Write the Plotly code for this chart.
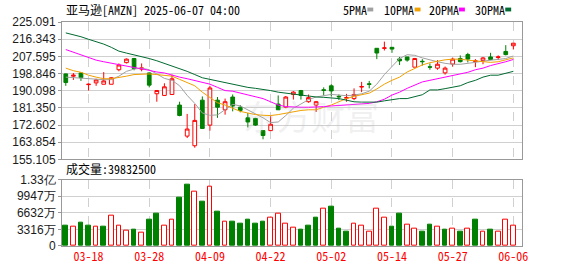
import plotly.graph_objects as go

# ---------------- data ----------------
dates = ["03-13","03-14","03-17","03-18","03-19","03-20","03-21","03-24","03-25","03-26",
         "03-27","03-28","03-31","04-01","04-02","04-03","04-04","04-07","04-08","04-09",
         "04-10","04-11","04-14","04-15","04-16","04-17","04-21","04-22","04-23","04-24",
         "04-25","04-28","04-29","04-30","05-01","05-02","05-05","05-06","05-07","05-08",
         "05-09","05-12","05-13","05-14","05-15","05-16","05-19","05-20","05-21","05-22",
         "05-23","05-27","05-28","05-29","05-30","06-02","06-03","06-04","06-05","06-06"]

opens = [198.66,197.5,199.15,193.2,194.1,193.4,193.4,200.8,204.4,206.5,
         201.1,199.15,188.55,187.7,188.2,182.8,167.0,162.1,185.3,172.6,
         185.3,180.4,186.9,181.7,176.3,176.0,169.8,169.8,183.3,181.7,
         188.2,190.2,184.5,182.8,190.6,192.6,187.3,186.3,186.1,192.0,
         193.6,211.7,211.7,212.2,206.3,207.3,202.1,205.1,202.3,201.6,
         199.2,203.7,206.5,208.5,205.0,205.5,207.3,207.0,210.1,213.0]
highs = [198.9,199.1,199.4,193.8,196.2,199.6,197.0,204.0,206.5,206.8,
         204.0,199.4,190.5,193.9,198.3,184.5,178.3,183.3,187.2,192.6,
         186.9,186.1,188.2,182.8,178.8,176.3,169.8,177.1,187.7,187.4,
         189.9,190.5,188.2,184.9,191.8,193.4,188.2,188.5,191.3,194.6,
         195.1,211.7,215.1,212.2,207.3,207.3,206.8,206.2,204.0,205.7,
         202.4,207.0,208.1,209.4,206.2,207.3,209.4,208.1,213.3,214.3]
lows = [192.6,195.6,195.1,190.2,192.6,193.4,193.4,200.0,204.0,200.5,
        200.0,191.8,184.5,187.4,188.0,177.1,166.0,161.1,170.6,169.8,
        176.3,177.9,179.6,179.1,171.4,172.2,165.4,169.8,180.4,181.2,
        185.6,185.6,184.0,179.3,187.7,187.2,185.3,184.5,185.3,189.4,
        191.3,206.2,210.6,209.4,203.2,204.9,202.1,202.9,200.8,200.8,
        198.3,202.4,204.5,204.5,202.1,203.6,205.7,205.7,208.1,211.1]
closes = [194.26,198.0,196.7,193.4,195.6,195.1,196.7,203.2,206.2,201.4,
          201.7,192.95,190.2,192.1,196.2,177.5,170.6,175.0,170.9,191.5,
          181.7,184.5,182.3,180.1,174.2,172.6,167.3,173.0,180.4,186.9,
          189.4,187.7,186.6,184.5,190.3,190.0,187.0,186.6,188.2,192.2,
          193.4,209.3,211.9,211.3,205.3,205.7,206.5,204.9,202.1,203.6,
          201.6,206.2,204.9,206.2,205.3,206.8,206.0,207.3,208.5,214.3]
prev_close = 198.9

ma5 = [197.03,196.71,196.38,196.22,195.89,195.73,195.73,197.52,199.97,201.11,
       201.60,200.79,198.66,196.38,195.40,192.63,187.74,183.66,178.76,177.62,
       177.78,180.40,183.17,182.35,180.40,178.27,176.32,173.87,174.20,177.46,
       181.21,183.33,185.61,186.92,187.74,188.22,187.90,187.57,187.90,188.55,
       189.86,193.44,198.34,202.42,206.49,208.45,208.12,206.82,205.68,204.86,
       204.05,203.56,203.56,203.88,204.54,205.19,205.68,206.17,206.49,207.80]
ma10 = [201.60,200.30,199.48,198.01,197.03,196.22,196.22,196.71,197.52,198.34,
        198.66,198.66,198.34,198.01,197.52,195.89,194.26,192.63,189.37,186.59,
        183.98,182.84,181.21,179.58,178.76,177.95,177.62,177.46,177.95,178.76,
        179.58,180.07,180.40,180.40,181.70,182.84,184.47,186.10,187.25,188.22,
        188.88,191.00,193.44,195.40,197.03,199.64,201.27,203.23,204.37,205.19,
        205.84,206.17,206.17,205.68,205.19,204.86,204.54,204.86,205.68,206.82]
ma20 = [211.06,209.76,208.45,206.82,205.68,204.86,204.05,203.23,202.42,201.93,
        201.27,200.30,199.64,199.15,198.01,197.03,196.22,195.40,194.26,193.44,
        191.81,190.18,189.86,188.88,188.22,187.25,186.10,184.47,182.84,182.02,
        181.70,181.70,181.70,181.70,182.02,182.35,182.68,182.84,183.33,183.66,
        183.66,184.47,185.78,187.90,189.37,191.32,192.96,194.59,195.40,196.22,
        197.03,197.52,198.34,199.48,200.79,201.60,202.91,203.72,204.86,206.01]
ma30 = [219.54,218.73,217.59,216.28,215.14,213.84,212.20,210.25,209.27,208.45,
        207.31,206.49,205.35,204.05,202.42,201.27,199.97,198.34,196.71,195.89,
        195.08,194.26,193.12,192.63,191.81,191.32,190.83,190.18,189.37,188.88,
        188.22,187.74,187.25,186.92,186.76,186.43,186.10,185.29,184.47,184.31,
        184.15,184.31,184.96,185.61,186.10,186.10,186.92,188.06,190.51,190.51,
        191.16,191.81,192.63,194.26,195.40,197.03,198.01,198.01,199.15,199.97]

volumes = [40600000,38600000,46400000,40600000,38600000,38600000,59900000,40600000,30300000,32800000,
           27000000,52200000,63700000,40600000,53400000,96600000,123600000,109500000,88900000,117800000,
           69500000,49600000,48300000,44400000,52200000,44400000,48300000,56000000,63700000,44400000,
           36700000,32800000,40600000,56000000,75300000,79200000,34100000,29000000,43800000,40600000,
           29000000,75300000,56000000,38600000,63700000,41900000,34100000,29000000,42500000,38600000,
           32800000,34100000,29000000,34100000,52200000,29000000,32800000,29000000,52200000,39832500]

label_dates = ["03-18","03-28","04-09","04-22","05-02","05-14","05-27","06-06"]
price_ticks = [155.105,163.854,172.602,181.350,190.098,198.846,207.595,216.343,225.091]
price_labels = ["155.105","163.854","172.602","181.350","190.098","198.846","207.595","216.343","225.091"]
vol_ticks = [0,33158000,66316000,99474000,132632000]
vol_labels = ["0","3316万","6632万","9947万","1.33亿"]
ma_names = ["5PMA","10PMA","20PMA","30PMA"]
title_text = "亚马逊[AMZN] 2025-06-07 04:00"

# ---------------- style ----------------
RED = "#ff0000"
GREEN = "#008000"
MA_COLORS = ["#a0a0a0", "#f0a000", "#ff00ff", "#006a30"]
GRID = "#d0d0d0"
FRAME = "#999999"
MONO = "Noto Sans Mono CJK SC, Liberation Mono, monospace"
SANS = "Liberation Sans, Arial, sans-serif"

W, H = 578, 276
L, R, T, B = 55, 522, 22, 255
PW, PH = R - L, B - T
def px(x): return (x - L) / PW
def py(y): return (B - y) / PH

fig = go.Figure()
fig.add_trace(go.Candlestick(
    x=dates, open=opens, high=highs, low=lows, close=closes,
    increasing=dict(line=dict(color=RED, width=1), fillcolor="#ffffff"),
    decreasing=dict(line=dict(color=GREEN, width=1), fillcolor=GREEN),
    whiskerwidth=0, showlegend=False, hoverinfo="skip", xaxis="x", yaxis="y"))

for name, vals, col in zip(ma_names, [ma5, ma10, ma20, ma30], MA_COLORS):
    fig.add_trace(go.Scatter(x=dates, y=vals, mode="lines", name=name,
                             line=dict(color=col, width=1), showlegend=False,
                             hoverinfo="skip", xaxis="x", yaxis="y"))

prevs = [prev_close] + closes[:-1]
up = [c >= p for c, p in zip(closes, prevs)]
fig.add_trace(go.Bar(
    x=dates, y=volumes, width=0.62,
    marker=dict(color=["#ffffff" if u else GREEN for u in up],
                line=dict(color=[RED if u else GREEN for u in up], width=1)),
    showlegend=False, hoverinfo="skip", xaxis="x2", yaxis="y2"))

axis_common = dict(showline=True, mirror=True, linecolor=FRAME, linewidth=1,
                   zeroline=False)
fig.update_layout(
    width=W, height=H,
    margin=dict(l=L, r=W - R, t=T, b=H - B),
    paper_bgcolor="white", plot_bgcolor="white",
    bargap=0,
    xaxis=dict(type="category", range=[-0.5, 60.14], domain=[0, 1], anchor="y",
               tickvals=label_dates, showticklabels=False, ticks="",
               showgrid=True, gridcolor=GRID, griddash="dash", gridwidth=1,
               rangeslider=dict(visible=False), **axis_common),
    yaxis=dict(domain=[py(165), 1], range=[price_ticks[0], price_ticks[-1]],
               tickvals=price_ticks, ticktext=price_labels,
               showgrid=True, gridcolor=GRID, ticks="outside", ticklen=3,
               tickcolor=FRAME, tickfont=dict(family=SANS, size=12, color="#1a1a1a"),
               **axis_common),
    xaxis2=dict(type="category", range=[-0.5, 60.14], domain=[0, 1], anchor="y2",
                matches="x", tickvals=label_dates, ticktext=label_dates,
                ticks="", showgrid=True, gridcolor=GRID, griddash="dash",
                tickfont=dict(family=MONO, size=12, color=RED), **axis_common),
    yaxis2=dict(domain=[0, py(186)], range=[vol_ticks[0], vol_ticks[-1]],
                tickvals=vol_ticks, ticktext=vol_labels,
                showgrid=True, gridcolor=GRID, ticks="outside", ticklen=3,
                tickcolor=FRAME, tickfont=dict(family=SANS, size=12, color="#1a1a1a"),
                **axis_common),
)

ann = []
ann.append(dict(text="东方财富", x=px(308), y=py(92), xref="paper", yref="paper",
                showarrow=False, font=dict(family="Noto Sans CJK SC", size=34,
                color="rgba(190,190,190,0.22)")))
ann.append(dict(text=title_text, x=px(57), y=py(9.5), xref="paper", yref="paper",
                xanchor="left", yanchor="middle", showarrow=False,
                font=dict(family=MONO, size=12, color="#000000")))
ann.append(dict(text="成交量:" + str(volumes[-1]), x=px(57), y=py(174), xref="paper",
                yref="paper", xanchor="left", yanchor="middle", showarrow=False,
                font=dict(family=MONO, size=12, color="#000000")))
legend_x = [338, 380, 426, 472]
sq_x = [365, 413, 458, 505]
shapes = []
for name, lx, sx, col in zip(ma_names, legend_x, sq_x, MA_COLORS):
    ann.append(dict(text=name, x=px(lx), y=py(9.5), xref="paper", yref="paper",
                    xanchor="left", yanchor="middle", showarrow=False,
                    font=dict(family=MONO, size=12, color="#000000")))
    shapes.append(dict(type="rect", xref="paper", yref="paper",
                       x0=px(sx), x1=px(sx + 6), y0=py(11), y1=py(7),
                       fillcolor=col, line=dict(width=0)))
fig.update_layout(annotations=ann, shapes=shapes)

fig.write_html("out.html")
